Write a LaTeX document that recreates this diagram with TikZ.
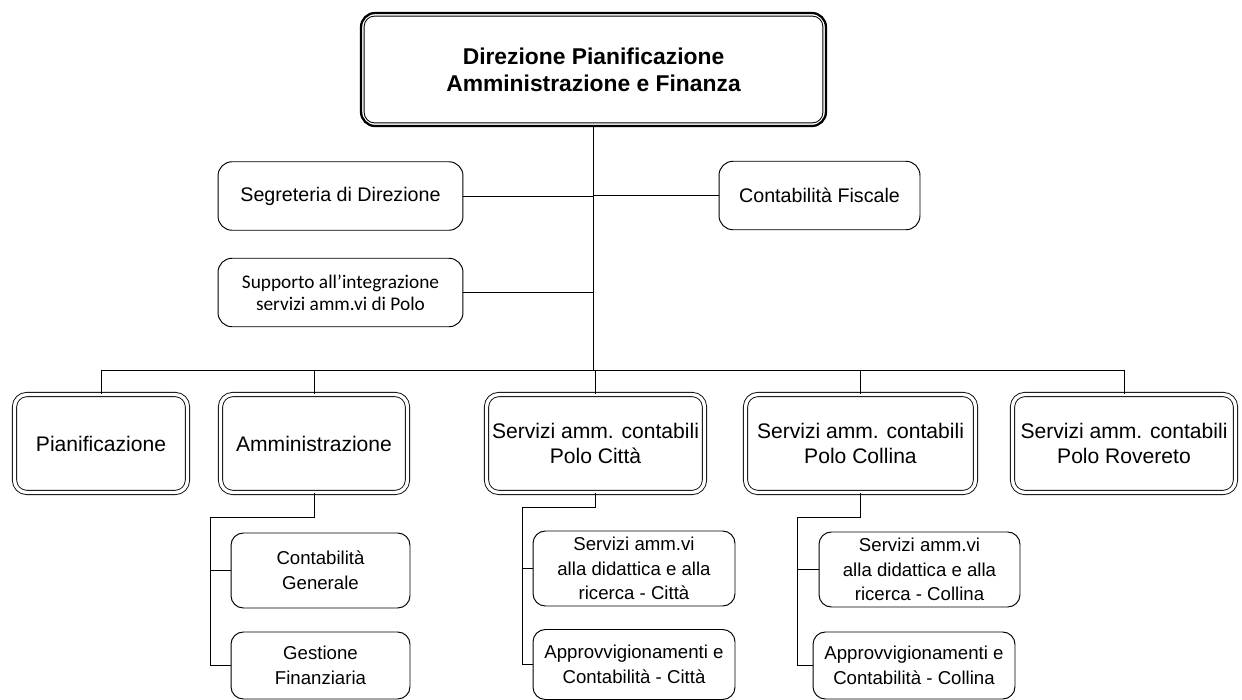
\documentclass[tikz,border=0pt]{standalone}
\usepackage{fontspec}
\setmainfont{Liberation Sans}
\newfontfamily\calibri{Carlito}
\usepackage{tikz}
\usetikzlibrary{calc}
\tikzset{
  dirbox/.style={draw, line width=1.3pt, rounded corners=8pt, align=center,
    minimum width=9.3cm, minimum height=2.26cm,
    font=\fontsize{13}{15.3}\selectfont\bfseries},
  office/.style={draw, line width=0.55pt, rounded corners=8pt, align=center,
    minimum height=1.37cm, inner sep=2pt, font=\fontsize{11.2}{13}\selectfont},
  unitbox/.style={draw, double, line width=0.5pt, double distance=1.9pt,
    rounded corners=7pt, align=center, minimum height=1.96cm, inner sep=1pt,
    font=\fontsize{12}{14.2}\selectfont},
  subbox/.style={draw, line width=0.55pt, rounded corners=7pt, align=center,
    minimum width=3.58cm, inner sep=1pt, font=\fontsize{10.6}{14}\selectfont},
  link/.style={draw, line width=0.5pt},
  trunk/.style={draw, line width=1pt}
}

\begin{document}
\begin{tikzpicture}[x=0.02cm, y=-0.02cm]
  \useasboundingbox (0,0) rectangle (1242,700);
  % direzione
  \node[dirbox] (dir) at (593.5,69.5) {Direzione Pianificazione\\Amministrazione e Finanza};
  \draw[line width=0.5pt, rounded corners=6pt]
    ([shift={(2.4pt,-2.4pt)}]dir.north west) rectangle ([shift={(-2.4pt,2.4pt)}]dir.south east);
  % staff
  \node[office, minimum width=4.9cm] (seg) at (340.5,196) {Segreteria di Direzione};
  \node[office, minimum width=4.02cm] (fisc) at (819.5,195.5) {Contabilità Fiscale};
  \node[office, minimum width=4.9cm, font=\calibri\fontsize{11}{12.5}\selectfont] (supp) at (340.5,292.5)
    {Supporto all’integrazione\\servizi amm.vi di Polo};
  % units
  \node[unitbox, minimum width=3.46cm] (pian) at (101,443.5) {Pianificazione};
  \node[unitbox, minimum width=3.74cm] (amm) at (314,443.5) {Amministrazione};
  \node[unitbox, minimum width=4.36cm] (citta) at (595.5,443.5) {Servizi amm. contabili\\Polo Città};
  \node[unitbox, minimum width=4.6cm] (coll) at (860.5,443.5) {Servizi amm. contabili\\Polo Collina};
  \node[unitbox, minimum width=4.46cm] (rov) at (1124,443.5) {Servizi amm. contabili\\Polo Rovereto};
  % sub-units
  \node[subbox, minimum height=1.5cm] (cg) at (320.5,570.5) {Contabilità\\Generale};
  \node[subbox, minimum height=1.34cm] (gf) at (320.5,665.5) {Gestione\\Finanziaria};
  \node[subbox, minimum width=4.04cm, minimum height=1.5cm] (sc) at (634,568.5)
    {Servizi amm.vi\\alla didattica e alla\\ricerca - Città};
  \node[subbox, minimum width=4.04cm, minimum height=1.4cm] (ac) at (634,664.5)
    {Approvvigionamenti e\\Contabilità - Città};
  \node[subbox, minimum width=4.02cm, minimum height=1.5cm] (scl) at (919.5,569.5)
    {Servizi amm.vi\\alla didattica e alla\\ricerca - Collina};
  \node[subbox, minimum width=4.04cm, minimum height=1.34cm] (acl) at (914,665.5)
    {Approvvigionamenti e\\Contabilità - Collina};

  \coordinate (bus) at (593.5,370);
  \coordinate (ammT) at (210,517);
  \coordinate (cittaT) at (522,507);
  \coordinate (collT) at (797,517);

  \draw[trunk] (dir.south) -- (bus);
  \draw[link] (seg.east) -- (seg.east -| bus);
  \draw[link] (fisc.west) -- (fisc.west -| bus);
  \draw[link] (supp.east) -- (supp.east -| bus);
  \draw[link] (pian.north) -- (pian.north |- bus) -- (rov.north |- bus) -- (rov.north);
  \draw[link] (amm.north) -- (amm.north |- bus);
  \draw[link] (citta.north) -- (citta.north |- bus);
  \draw[link] (coll.north) -- (coll.north |- bus);

  \draw[link] (amm.south) |- (ammT) |- (gf.west);
  \draw[link] (cg.west) -- (cg.west -| ammT);
  \draw[link] (citta.south) |- (cittaT) |- (ac.west);
  \draw[link] (sc.west) -- (sc.west -| cittaT);
  \draw[link] (coll.south) |- (collT) |- (acl.west);
  \draw[link] (scl.west) -- (scl.west -| collT);
\end{tikzpicture}
\end{document}
